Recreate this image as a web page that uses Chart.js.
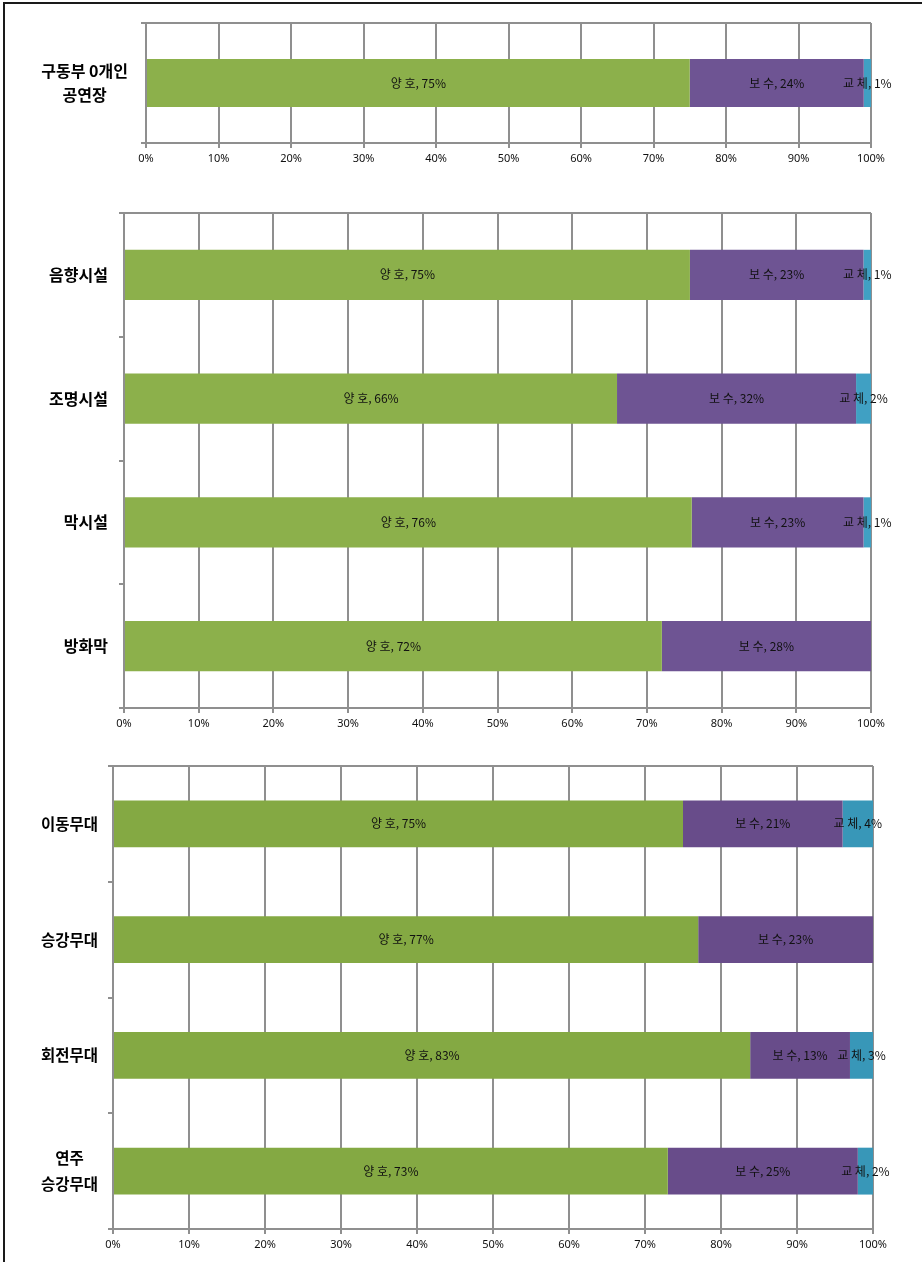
<!DOCTYPE html>
<html lang="ko">
<head>
<meta charset="utf-8">
<title>무대시설 상태 평가</title>
<script src="https://cdn.jsdelivr.net/npm/chart.js@4.4.1/dist/chart.umd.min.js"></script>
<style>
  html, body { margin: 0; padding: 0; background: #fff; }
  #page { position: relative; width: 922px; height: 1262px; overflow: hidden; background: #fff; }
  #frame { position: absolute; left: 3px; top: 2px; right: -10px; bottom: -10px;
           border-top: 2px solid #1a1a1a; border-left: 2px solid #1a1a1a; }
  canvas { position: absolute; left: 0; }
</style>
</head>
<body>
<div id="page">
  <div id="frame"></div>
  <canvas id="drivelessChart" width="922" height="170" style="top:10px"></canvas>
  <canvas id="equipChart" width="922" height="550" style="top:195px"></canvas>
  <canvas id="stageChart" width="922" height="510" style="top:750px"></canvas>
</div>
<script>
// Condition grades (stacked segments, left to right)
const seriesNames = ['양 호', '보 수', '교 체'];

// Venues with no driven machinery
const drivelessCategories = [['구동부 0개인', '공연장']];
const drivelessGood = [75];
const drivelessRepair = [24];
const drivelessReplace = [1];

// Sound / lighting / curtain equipment
const equipCategories = ['음향시설', '조명시설', '막시설', '방화막'];
const equipGood = [75, 66, 76, 72];
const equipRepair = [23, 32, 23, 28];
const equipReplace = [1, 2, 1, 0];

// Stage machinery
const stageCategories = ['이동무대', '승강무대', '회전무대', ['연주', '승강무대']];
const stageGood = [75, 77, 83, 73];
const stageRepair = [21, 23, 13, 25];
const stageReplace = [4, 0, 3, 2];

// Percent axis tick labels
const percentTicks = [0, 10, 20, 30, 40, 50, 60, 70, 80, 90, 100];

const gridColor = '#8f8f8f';
const paletteA = ['#8cb04b', '#6e5493', '#40a0c3'];
const paletteB = ['#84a943', '#684c8a', '#3897b8'];

// Horizontal rule along the top of the plot area
const plotTopEdge = {
  id: 'plotTopEdge',
  beforeDatasetsDraw(chart) {
    const { ctx, chartArea } = chart;
    ctx.save();
    ctx.strokeStyle = gridColor;
    ctx.lineWidth = 2;
    ctx.beginPath();
    ctx.moveTo(chartArea.left, chartArea.top);
    ctx.lineTo(chartArea.right, chartArea.top);
    ctx.stroke();
    ctx.restore();
  }
};

// "grade, value%" written at the middle of each segment
const segmentLabels = {
  id: 'segmentLabels',
  afterDatasetsDraw(chart) {
    const { ctx } = chart;
    ctx.save();
    ctx.font = '12px "Noto Sans CJK KR", "Noto Sans", sans-serif';
    ctx.fillStyle = '#111';
    ctx.textAlign = 'center';
    ctx.textBaseline = 'middle';
    chart.data.datasets.forEach((ds, di) => {
      const meta = chart.getDatasetMeta(di);
      meta.data.forEach((bar, i) => {
        const v = ds.rawValues[i];
        if (!v) return;
        const { x, y, base } = bar.getProps(['x', 'y', 'base'], true);
        ctx.fillText(`${ds.label}, ${v}%`, (x + base) / 2, y);
      });
    });
    ctx.restore();
  }
};

function buildChart(canvasId, labels, good, repair, replace, box, palette) {
  const totals = good.map((g, i) => g + repair[i] + replace[i]);
  const share = arr => arr.map((v, i) => v / totals[i] * 100);
  const series = [good, repair, replace];

  return new Chart(document.getElementById(canvasId), {
    type: 'bar',
    data: {
      labels,
      datasets: series.map((vals, k) => ({
        label: seriesNames[k],
        data: share(vals),
        rawValues: vals,
        backgroundColor: palette[k],
        borderWidth: 0
      }))
    },
    options: {
      indexAxis: 'y',
      responsive: false,
      animation: false,
      layout: { padding: { top: box.top, right: box.right, bottom: 0, left: 0 } },
      datasets: { bar: { categoryPercentage: 1, barPercentage: box.barShare } },
      plugins: { legend: { display: false }, tooltip: { enabled: false } },
      scales: {
        x: {
          stacked: true,
          min: 0,
          max: 100,
          afterBuildTicks: s => { s.ticks = percentTicks.map(v => ({ value: v })); },
          ticks: {
            callback: v => v + '%',
            color: '#111',
            padding: 4,
            maxRotation: 0,
            font: { family: '"Noto Sans", sans-serif', size: 11 }
          },
          grid: { color: gridColor, lineWidth: 2, tickLength: 5, tickColor: gridColor },
          border: { color: gridColor, width: 2 },
          afterFit: s => { s.height = box.xAxisHeight; }
        },
        y: {
          stacked: true,
          ticks: {
            crossAlign: box.labelAlign,
            padding: box.labelGap,
            color: '#000',
            font: { family: '"Noto Sans CJK KR", sans-serif', size: box.labelSize, weight: 'bold', lineHeight: box.labelLine }
          },
          grid: { drawOnChartArea: false, tickLength: 5, color: gridColor, lineWidth: 2 },
          border: { color: gridColor, width: 2 },
          afterFit: s => {
            s.width = box.left;
            // category labels sit beside their bars; they need no room above or below the plot
            s.paddingTop = 0;
            s.paddingBottom = 0;
          }
        }
      }
    },
    plugins: [plotTopEdge, segmentLabels]
  });
}

buildChart('drivelessChart', drivelessCategories, drivelessGood, drivelessRepair, drivelessReplace,
  { top: 13, right: 51, left: 146, xAxisHeight: 37, barShare: 0.4,
    labelAlign: 'center', labelGap: 13, labelSize: 16, labelLine: 1.45 }, paletteA);

buildChart('equipChart', equipCategories, equipGood, equipRepair, equipReplace,
  { top: 18, right: 51, left: 124, xAxisHeight: 37, barShare: 0.405,
    labelAlign: 'near', labelGap: 11, labelSize: 16, labelLine: 1.2 }, paletteA);

buildChart('stageChart', stageCategories, stageGood, stageRepair, stageReplace,
  { top: 16, right: 49, left: 113, xAxisHeight: 31, barShare: 0.405,
    labelAlign: 'center', labelGap: 10, labelSize: 15.5, labelLine: 1.7 }, paletteB);
</script>
</body>
</html>
